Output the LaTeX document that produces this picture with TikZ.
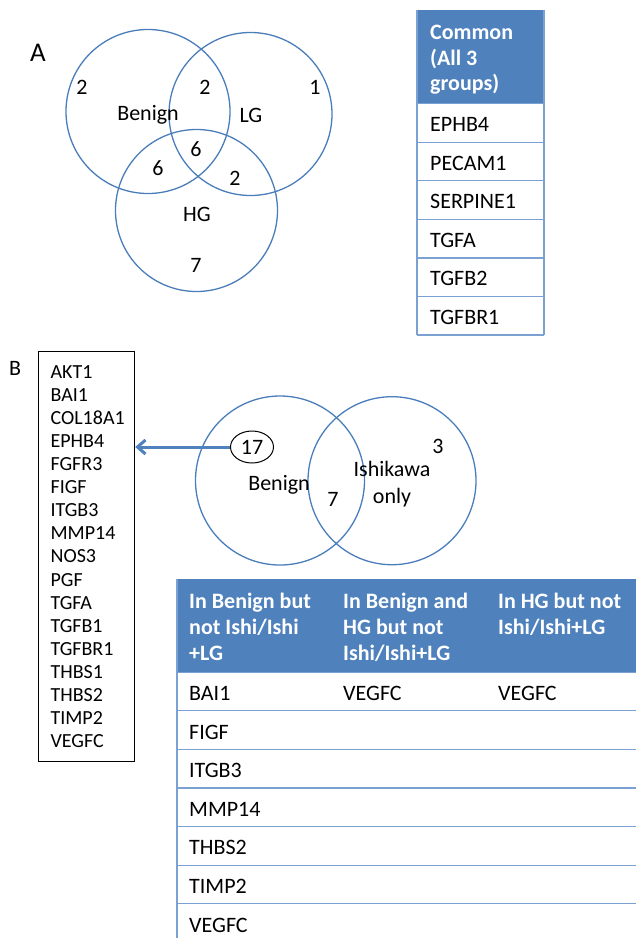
\documentclass[tikz,border=0pt]{standalone}
\usepackage{fontspec}
\setmainfont{Carlito}
\usetikzlibrary{arrows.meta,shapes.geometric}
\definecolor{vennblue}{HTML}{4A7EBB}
\definecolor{headblue}{HTML}{4F81BD}
\definecolor{ruleblue}{HTML}{7BA1D2}

\begin{document}
\begin{tikzpicture}[x=1bp,y=-1bp,
    venn/.style={circle,draw=vennblue,line width=1.3bp,inner sep=0pt},
    lbl/.style={font=\fontsize{22bp}{26bp}\selectfont,inner sep=0pt,anchor=base},
    cell/.style={font=\fontsize{22bp}{26bp}\selectfont,inner sep=0pt,anchor=base west},
    head/.style={font=\fontsize{22bp}{26bp}\selectfont\bfseries,text=white,
      inner sep=0pt,anchor=north west,align=left},
    rule/.style={draw=ruleblue,line width=1.2bp},
    arrowline/.style={draw=headblue,line width=3bp,-{Straight Barb[length=8bp,width=14bp]}}]
  \useasboundingbox (0,0) rectangle (636,938);

  % Panel A: three groups
  \node[lbl,font=\fontsize{27bp}{30bp}\selectfont] (labA) at (38,61.7) {A};
  \node[venn,minimum size=164bp] (benA) at (148,111.5) {};
  \node[venn,minimum size=163bp] (lgA) at (250.5,114) {};
  \node[venn,minimum size=162bp] (hgA) at (196.5,210.5) {};

  % Venn A counts and names
  \node[lbl] (benOnly) at (82,94.3) {2};
  \node[lbl] (benName) at (148,120.7) {Benign};
  \node[lbl] (benLg) at (205,94.3) {2};
  \node[lbl] (lgName) at (251,122.7) {LG};
  \node[lbl] (lgOnly) at (315,94.3) {1};
  \node[lbl] (allThree) at (196,156.7) {6};
  \node[lbl] (benHg) at (158,175.7) {6};
  \node[lbl] (lgHg) at (235,185.7) {2};
  \node[lbl] (hgName) at (197,221) {HG};
  \node[lbl] (hgOnly) at (196,272.3) {7};

  % Common genes table
  \fill[headblue] (417,10) rectangle (544,103.7);
  \node[head,font=\fontsize{22bp}{25.5bp}\selectfont\bfseries] (comHead) at (430,{39.3-0.7*25.5})
    {\strut Common\\(All 3\\groups)};
  \foreach \g [count=\i] in {EPHB4,PECAM1,SERPINE1,TGFA,TGFB2,TGFBR1}
    \node[cell] (com\i) at (430,{131.7+38.55*(\i-1)}) {\g};
  \foreach \i in {0,...,6}
    \draw[rule] (417,{103.7+38.55*\i}) -- (544,{103.7+38.55*\i});
  \draw[rule] (417,10) -- (417,335);
  \draw[rule] (544,10) -- (544,335);

  % Panel B: Benign vs Ishikawa
  \node[lbl] (labB) at (15,375) {B};
  \node[draw,line width=1.2bp,anchor=north west,inner xsep=12bp,inner ysep=0pt,
    text width=72bp,minimum height=410bp,align=left,
    font=\fontsize{20bp}{23.06bp}\selectfont] (genes) at (38,351)
    {AKT1\\BAI1\\COL18A1\\EPHB4\\FGFR3\\FIGF\\ITGB3\\MMP14\\NOS3\\PGF\\TGFA\\TGFB1\\TGFBR1\\THBS1\\THBS2\\TIMP2\\VEGFC};
  \node[venn,minimum size=169bp] (benB) at (280,480.5) {};
  \node[venn,minimum size=168bp] (ishB) at (392,480.7) {};
  \node[ellipse,draw,line width=1bp,minimum width=43bp,minimum height=32bp,inner sep=0pt,
    font=\fontsize{22bp}{26bp}\selectfont] (n17) at (252,447) {17};
  \draw[arrowline] (n17.west) -- (genes.east |- n17.west);
  \node[lbl] (benBName) at (279,490) {Benign};
  \node[lbl] (shared) at (333,506.7) {7};
  \node[lbl,anchor=north,align=center,font=\fontsize{22bp}{26.3bp}\selectfont] (ishName)
    at (392,{476.7-0.7*26.3}) {\strut Ishikawa\\only};
  \node[lbl] (ishOnly) at (438,453.3) {3};

  % Benign / HG table
  \fill[headblue] (177,579) rectangle (636,672.3);
  \node[head] (hd1) at (189,{608.3-0.7*26}) {\strut In Benign but\\not Ishi/Ishi\\+LG};
  \node[head] (hd2) at (343,{608.3-0.7*26}) {\strut In Benign and\\HG but not\\Ishi/Ishi+LG};
  \node[head] (hd3) at (498,{608.3-0.7*26}) {\strut In HG but not\\Ishi/Ishi+LG};
  \foreach \g [count=\i] in {BAI1,FIGF,ITGB3,MMP14,THBS2,TIMP2,VEGFC}
    \node[cell] (bn\i) at (189,{700.7+38.57*(\i-1)}) {\g};
  \node[cell] (bh1) at (343,700.7) {VEGFC};
  \node[cell] (hg1) at (498,700.7) {VEGFC};
  \foreach \i in {0,...,6}
    \draw[rule] (177,{672.3+38.57*\i}) -- (636,{672.3+38.57*\i});
  \draw[rule] (177,579) -- (177,938);
\end{tikzpicture}
\end{document}
